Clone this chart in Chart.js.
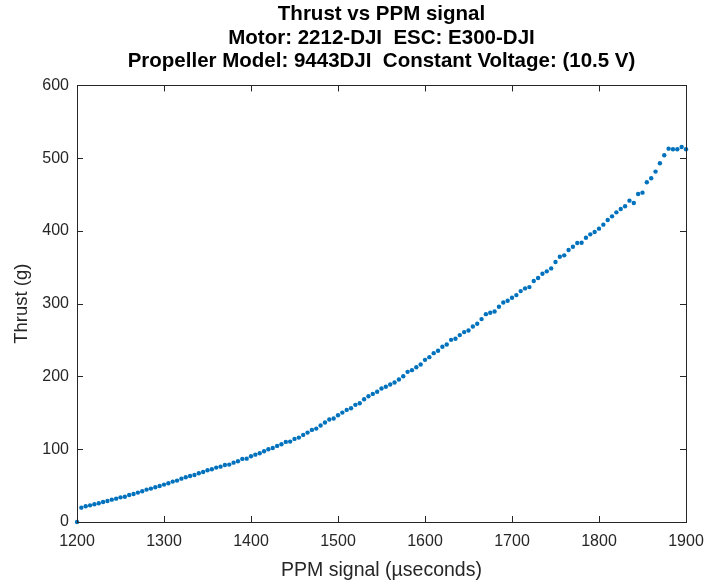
<!DOCTYPE html>
<html>
<head>
<meta charset="utf-8">
<script src="https://cdn.jsdelivr.net/npm/chart.js@4/dist/chart.umd.min.js"></script>
<style>
  html, body { margin: 0; padding: 0; background: #fff; }
  #wrap { width: 709px; height: 588px; }
</style>
</head>
<body>
<div id="wrap"><canvas id="thrust-chart" width="709" height="588"></canvas></div>
<script>
const ppm = [
  1200, 1205, 1210, 1215, 1220, 1225, 1230, 1235, 1240, 1245,
  1250, 1255, 1260, 1265, 1270, 1275, 1280, 1285, 1290, 1295,
  1300, 1305, 1310, 1315, 1320, 1325, 1330, 1335, 1340, 1345,
  1350, 1355, 1360, 1365, 1370, 1375, 1380, 1385, 1390, 1395,
  1400, 1405, 1410, 1415, 1420, 1425, 1430, 1435, 1440, 1445,
  1450, 1455, 1460, 1465, 1470, 1475, 1480, 1485, 1490, 1495,
  1500, 1505, 1510, 1515, 1520, 1525, 1530, 1535, 1540, 1545,
  1550, 1555, 1560, 1565, 1570, 1575, 1580, 1585, 1590, 1595,
  1600, 1605, 1610, 1615, 1620, 1625, 1630, 1635, 1640, 1645,
  1650, 1655, 1660, 1665, 1670, 1675, 1680, 1685, 1690, 1695,
  1700, 1705, 1710, 1715, 1720, 1725, 1730, 1735, 1740, 1745,
  1750, 1755, 1760, 1765, 1770, 1775, 1780, 1785, 1790, 1795,
  1800, 1805, 1810, 1815, 1820, 1825, 1830, 1835, 1840, 1845,
  1850, 1855, 1860, 1865, 1870, 1875, 1880, 1885, 1890, 1895,
  1900
];
const thrust = [
  0, 19.7, 21.6, 22.9, 24.3, 25.7, 27.5, 28.9, 30.7, 32.1,
  33.9, 34.8, 37.2, 38.5, 40.4, 42.2, 44.5, 45.9, 47.7, 49.5,
  51.4, 53.2, 55.5, 56.9, 59.6, 61.5, 63.3, 64.7, 67.0, 68.8,
  71.1, 72.5, 74.8, 76.1, 78.4, 78.9, 81.6, 83.5, 86.7, 87.1,
  90.4, 92.6, 94.5, 97.2, 100.0, 101.8, 104.6, 106.9, 110.1, 110.5,
  114.2, 116.0, 119.7, 122.9, 126.6, 128.4, 132.6, 136.7, 140.8, 142.2,
  146.8, 150.4, 154.1, 156.4, 161.0, 163.3, 168.8, 172.9, 176.1, 179.1,
  183.5, 185.8, 189.0, 191.7, 195.8, 200.4, 206.4, 208.7, 212.8, 216.5,
  222.9, 226.6, 232.1, 235.3, 240.8, 244.0, 250.4, 251.8, 256.9, 261.0,
  263.3, 268.8, 272.4, 278.9, 285.7, 287.6, 289.4, 295.8, 301.8, 304.1,
  308.2, 311.9, 317.4, 321.1, 322.9, 331.2, 335.3, 341.2, 344.5, 348.6,
  357.3, 364.6, 366.5, 373.8, 378.4, 383.5, 383.9, 390.8, 395.4, 398.6,
  403.2, 408.7, 415.1, 420.1, 425.6, 430.2, 433.9, 441.7, 438.5, 450.9,
  452.7, 466.9, 472.4, 481.6, 493.1, 504.1, 513.2, 512.3, 512.3, 515.5,
  512.3
];
const xTicks = [1200, 1300, 1400, 1500, 1600, 1700, 1800, 1900];
const yTicks = [0, 100, 200, 300, 400, 500, 600];
const titleLines = [
  'Thrust vs PPM signal',
  'Motor: 2212-DJI  ESC: E300-DJI',
  'Propeller Model: 9443DJI  Constant Voltage: (10.5 V)'
];

const FONT = '"Liberation Sans", Arial, Helvetica, sans-serif';
const AXIS_COLOR = '#262626';

// matlab-style box with inward ticks on all four sides
const boxTicks = {
  id: 'boxTicks',
  afterDraw(chart) {
    const { ctx, chartArea: a, scales: { x, y } } = chart;
    const len = 6;
    ctx.save();
    ctx.strokeStyle = AXIS_COLOR;
    ctx.lineWidth = 1;
    ctx.beginPath();
    xTicks.forEach(v => {
      const px = Math.round(x.getPixelForValue(v)) + 0.5;
      ctx.moveTo(px, a.bottom); ctx.lineTo(px, a.bottom - len);
      ctx.moveTo(px, a.top); ctx.lineTo(px, a.top + len);
    });
    yTicks.forEach(v => {
      const py = Math.round(y.getPixelForValue(v)) + 0.5;
      ctx.moveTo(a.left, py); ctx.lineTo(a.left + len, py);
      ctx.moveTo(a.right, py); ctx.lineTo(a.right - len, py);
    });
    ctx.stroke();
    ctx.strokeRect(Math.round(a.left) + 0.5, Math.round(a.top) + 0.5,
      Math.round(a.right - a.left), Math.round(a.bottom - a.top));
    ctx.restore();
  }
};

new Chart(document.getElementById('thrust-chart').getContext('2d'), {
  type: 'scatter',
  data: {
    datasets: [{
      data: ppm.map((v, i) => ({ x: v, y: thrust[i] })),
      backgroundColor: '#0072BD',
      borderColor: '#0072BD',
      borderWidth: 0,
      pointRadius: 2.2,
      pointHoverRadius: 2.2,
      clip: false
    }]
  },
  options: {
    responsive: false,
    animation: false,
    layout: { padding: { top: 0, right: 23, bottom: 0, left: 0 } },
    plugins: {
      legend: { display: false },
      tooltip: { enabled: false },
      title: {
        display: true,
        fullSize: false,
        text: titleLines,
        color: '#000',
        font: { family: FONT, size: 20.5, weight: 'bold', lineHeight: 1.146 },
        padding: { top: 3, bottom: 12 }
      }
    },
    scales: {
      x: {
        type: 'linear',
        min: 1200, max: 1900,
        afterFit(s) { s.height = 66; s.paddingLeft = 0; s.paddingRight = 0; },
        afterBuildTicks(s) { s.ticks = xTicks.map(v => ({ value: v })); },
        grid: { display: false, drawTicks: false },
        border: { display: false },
        ticks: {
          color: AXIS_COLOR, padding: 10, maxRotation: 0,
          font: { family: FONT, size: 16 },
          callback: v => String(v)
        },
        title: {
          display: true,
          text: 'PPM signal (µseconds)',
          color: AXIS_COLOR,
          font: { family: FONT, size: 19.5 },
          padding: { top: 0, bottom: 6 }
        }
      },
      y: {
        type: 'linear',
        min: 0, max: 600,
        afterFit(s) { s.width = 77; s.paddingTop = 0; s.paddingBottom = 0; },
        afterBuildTicks(s) { s.ticks = yTicks.map(v => ({ value: v })); },
        grid: { display: false, drawTicks: false },
        border: { display: false },
        ticks: {
          color: AXIS_COLOR, padding: 8,
          font: { family: FONT, size: 16 },
          callback: v => String(v)
        },
        title: {
          display: true,
          text: 'Thrust (g)',
          color: AXIS_COLOR,
          font: { family: FONT, size: 18.5 },
          padding: { top: 11, bottom: 0 }
        }
      }
    }
  },
  plugins: [boxTicks]
});
</script>
</body>
</html>
